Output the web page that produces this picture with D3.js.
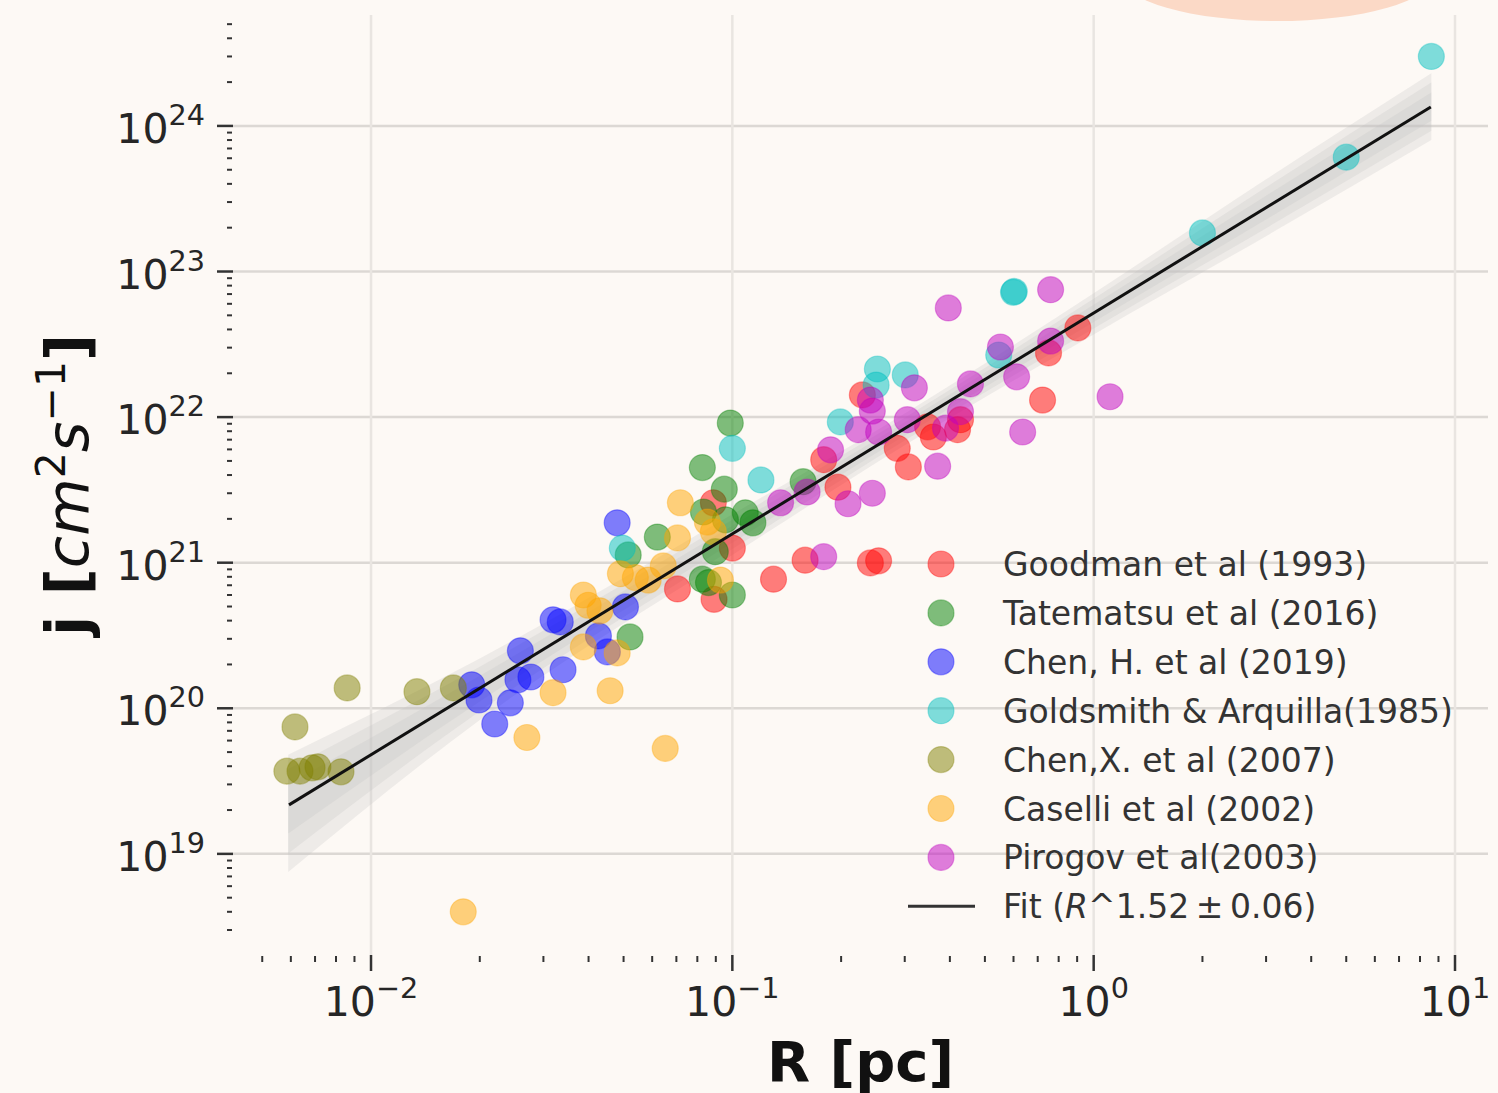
<!DOCTYPE html>
<html><head><meta charset="utf-8">
<script src="https://cdn.jsdelivr.net/npm/d3@7"></script>
<style>
html,body{margin:0;padding:0;background:#fdf9f5;}
svg{display:block;font-family:"DejaVu Sans",sans-serif;}
</style></head><body>
<svg id="chart" width="1498" height="1093"></svg>
<script>
// ---------------- data ----------------
const seriesNames = ["Goodman et al (1993)", "Tatematsu et al (2016)", "Chen, H. et al (2019)",
  "Goldsmith & Arquilla(1985)", "Chen,X. et al (2007)", "Caselli et al (2002)", "Pirogov et al(2003)"];
const seriesColors = ["#ff0000", "#008000", "#0000ff", "#00bfbf", "#808000", "#ffa500", "#bf00bf"];

const goodmanR = [0.904, 0.75, 0.722, 0.229, 0.347, 0.360, 0.420, 0.428, 0.286, 0.307, 0.179, 0.196, 0.0886, 0.100, 0.0705, 0.089, 0.130, 0.159, 0.241, 0.254];
const goodmanJ = [4.1e22, 2.76e22, 1.31e22, 1.42e22, 8.57e21, 7.3e21, 8.2e21, 9.6e21, 6.1e21, 4.55e21, 5.1e21, 3.3e21, 2.58e21, 1.26e21, 6.6e20, 5.6e20, 7.7e20, 1.04e21, 9.97e20, 1.03e21];

const tatematsuR = [0.0987, 0.0826, 0.095, 0.0832, 0.1086, 0.114, 0.157, 0.0897, 0.062, 0.0826, 0.0859, 0.100, 0.0515, 0.0521, 0.0957];
const tatematsuJ = [9.1e21, 4.5e21, 3.2e21, 2.23e21, 2.2e21, 1.88e21, 3.6e21, 1.19e21, 1.5e21, 7.7e20, 7.3e20, 6.0e20, 1.13e21, 3.09e20, 1.97e21];

const chenHR = [0.048, 0.0319, 0.0334, 0.0506, 0.0426, 0.0451, 0.0259, 0.0277, 0.0255, 0.034, 0.0243, 0.0199, 0.019, 0.022];
const chenHJ = [1.88e21, 4.05e20, 3.92e20, 4.97e20, 3.14e20, 2.44e20, 2.48e20, 1.64e20, 1.57e20, 1.84e20, 1.09e20, 1.14e20, 1.45e20, 7.8e19];

const goldsmithR = [8.6, 5.0, 2.0, 0.60, 0.603, 0.546, 0.252, 0.250, 0.301, 0.199, 0.100, 0.120, 0.0496];
const goldsmithJ = [3.0e24, 6.1e23, 1.84e23, 7.2e22, 7.3e22, 2.67e22, 2.14e22, 1.66e22, 1.95e22, 9.27e21, 6.1e21, 3.7e21, 1.26e21];

const chenXR = [0.00859, 0.0134, 0.0169, 0.00616, 0.00585, 0.00636, 0.00687, 0.00713, 0.00826];
const chenXJ = [1.38e20, 1.3e20, 1.38e20, 7.45e19, 3.7e19, 3.7e19, 3.9e19, 3.96e19, 3.66e19];

const caselliR = [0.0718, 0.0705, 0.0644, 0.049, 0.0539, 0.0585, 0.0387, 0.0399, 0.043, 0.0387, 0.048, 0.0319, 0.0459, 0.027, 0.0652, 0.0853, 0.0886, 0.0927, 0.018];
const caselliJ = [2.58e21, 1.48e21, 9.5e20, 8.4e20, 7.9e20, 7.6e20, 6.0e20, 5.1e20, 4.67e20, 2.64e20, 2.4e20, 1.28e20, 1.32e20, 6.3e19, 5.3e19, 1.9e21, 1.63e21, 7.6e20, 4.0e18];

const pirogovR = [0.396, 0.760, 0.552, 0.760, 0.612, 0.456, 1.11, 0.636, 0.319, 0.428, 0.370, 0.305, 0.241, 0.244, 0.223, 0.254, 0.187, 0.244, 0.161, 0.209, 0.136, 0.179, 0.389];
const pirogovJ = [5.62e22, 7.5e22, 3.03e22, 3.33e22, 1.89e22, 1.69e22, 1.38e22, 7.9e21, 1.59e22, 1.09e22, 4.6e21, 9.6e21, 1.31e22, 1.1e22, 8.2e21, 7.9e21, 5.96e21, 3.0e21, 3.06e21, 2.54e21, 2.58e21, 1.1e21, 8.4e21];

// fit line endpoints and its bootstrap spread band
const fitLabel = "Fit (R^1.52\u2009\u00b1\u20090.06)";
const fitR = [0.00593, 8.57];
const fitJ = [2.17e19, 1.35e24];
const bandR  = [0.0059, 0.02, 0.1, 0.3, 1, 3, 8.6];
const bandHi = [4.8e19, 2.2e20, 2.15e21, 1.06e22, 7.1e22, 4.3e23, 2.3e24];
const bandLo = [7.5e18, 8.3e19, 1.13e21, 6.4e21, 3.7e22, 1.75e23, 8.0e23];

// axes
const xDomain = [0.00415, 12.34];
const yDomain = [2.02e18, 5.78e24];
const xMajorTicks = [1e-2, 1e-1, 1e0, 1e1];
const xTickExp = ["\u22122", "\u22121", "0", "1"];
const yMajorTicks = [1e19, 1e20, 1e21, 1e22, 1e23, 1e24];
const yTickExp = ["19", "20", "21", "22", "23", "24"];

// ---------------- drawing ----------------
const R = [goodmanR, tatematsuR, chenHR, goldsmithR, chenXR, caselliR, pirogovR];
const J = [goodmanJ, tatematsuJ, chenHJ, goldsmithJ, chenXJ, caselliJ, pirogovJ];

const W = 1498, H = 1093;
const m = {left: 233, right: 1488, top: 15, bottom: 955};
const svg = d3.select("#chart");
svg.append("rect").attr("width", W).attr("height", H).attr("fill", "#fdf9f5");

// decorative peach blob at top
svg.append("ellipse").attr("cx", 1277).attr("cy", -24).attr("rx", 156).attr("ry", 45)
  .attr("fill", "#fbd9c6");

const x = d3.scaleLog().domain(xDomain).range([m.left, m.right]);
const y = d3.scaleLog().domain(yDomain).range([m.bottom, m.top]);

// grid
const grid = svg.append("g");
grid.selectAll(".hg").data(yMajorTicks).join("line")
  .attr("x1", m.left).attr("x2", m.right)
  .attr("y1", d => y(d)).attr("y2", d => y(d))
  .attr("stroke", "#dcd8d4").attr("stroke-width", 2.5);
grid.selectAll(".vg").data(xMajorTicks).join("line")
  .attr("x1", d => x(d)).attr("x2", d => x(d))
  .attr("y1", m.top).attr("y2", m.bottom)
  .attr("stroke", "#e9e5e1").attr("stroke-width", 2.5);

// minor ticks
function minors(domain) {
  const out = [];
  for (let e = Math.floor(Math.log10(domain[0])); e <= Math.ceil(Math.log10(domain[1])); e++) {
    for (let k = 2; k <= 9; k++) {
      const v = k * Math.pow(10, e);
      if (v >= domain[0] && v <= domain[1]) out.push(v);
    }
  }
  return out;
}
const tickCol = "#333";
const ax = svg.append("g");
ax.selectAll(".ymin").data(minors(yDomain)).join("line")
  .attr("x1", m.left - 6).attr("x2", m.left - 1)
  .attr("y1", d => y(d)).attr("y2", d => y(d))
  .attr("stroke", tickCol).attr("stroke-width", 2);
ax.selectAll(".xmin").data(minors(xDomain)).join("line")
  .attr("y1", m.bottom + 1).attr("y2", m.bottom + 7)
  .attr("x1", d => x(d)).attr("x2", d => x(d))
  .attr("stroke", tickCol).attr("stroke-width", 2);
ax.selectAll(".ymaj").data(yMajorTicks).join("line")
  .attr("x1", m.left - 16).attr("x2", m.left)
  .attr("y1", d => y(d)).attr("y2", d => y(d))
  .attr("stroke", tickCol).attr("stroke-width", 2.5);
ax.selectAll(".xmaj").data(xMajorTicks).join("line")
  .attr("y1", m.bottom).attr("y2", m.bottom + 16)
  .attr("x1", d => x(d)).attr("x2", d => x(d))
  .attr("stroke", tickCol).attr("stroke-width", 2.5);

const tickFont = 41;
yMajorTicks.forEach((v, i) => {
  const t = ax.append("text").attr("x", m.left - 28).attr("y", y(v) + 17)
    .attr("text-anchor", "end").attr("font-size", tickFont).attr("fill", "#262626");
  t.append("tspan").text("10");
  t.append("tspan").attr("dy", -18).attr("font-size", tickFont * 0.7).text(yTickExp[i]);
});
xMajorTicks.forEach((v, i) => {
  const t = ax.append("text").attr("x", x(v)).attr("y", 1016)
    .attr("text-anchor", "middle").attr("font-size", tickFont).attr("fill", "#262626");
  t.append("tspan").text("10");
  t.append("tspan").attr("dy", -18).attr("font-size", tickFont * 0.7).text(xTickExp[i]);
});

// axis labels
svg.append("text").attr("x", (m.left + m.right) / 2).attr("y", 1081)
  .attr("text-anchor", "middle").attr("font-size", 56).attr("font-weight", "bold")
  .attr("fill", "#111").text("R [pc]");
const yl = svg.append("text").attr("transform", `translate(88,${(m.top + m.bottom) / 2}) rotate(-90)`)
  .attr("text-anchor", "middle").attr("font-size", 59).attr("fill", "#111");
yl.append("tspan").attr("font-weight", "bold").text("j [");
yl.append("tspan").attr("font-style", "italic").text("cm");
yl.append("tspan").attr("dy", -23).attr("font-size", 41).text("2");
yl.append("tspan").attr("dy", 23).attr("font-style", "italic").text("s");
yl.append("tspan").attr("dy", -23).attr("font-size", 41).text("\u22121");
yl.append("tspan").attr("dy", 23).attr("font-weight", "bold").text("]");

// band
const plot = svg.append("g");
const fitAt = r => {
  const t = (Math.log10(r) - Math.log10(fitR[0])) / (Math.log10(fitR[1]) - Math.log10(fitR[0]));
  return Math.pow(10, Math.log10(fitJ[0]) + t * (Math.log10(fitJ[1]) - Math.log10(fitJ[0])));
};
[1.0, 0.72, 0.42].forEach(f => {
  const pts = bandR.map((r, i) => {
    const c = Math.log10(fitAt(r));
    return {r, hi: Math.pow(10, c + f * (Math.log10(bandHi[i]) - c)), lo: Math.pow(10, c + f * (Math.log10(bandLo[i]) - c))};
  });
  plot.append("path").datum(pts)
    .attr("d", d3.area().x(d => x(d.r)).y0(d => y(d.lo)).y1(d => y(d.hi)).curve(d3.curveMonotoneX))
    .attr("fill", "#c2c2c2").attr("fill-opacity", 0.24);
});

// points
R.forEach((rs, s) => {
  plot.append("g").selectAll("circle").data(rs.map((r, i) => [r, J[s][i]])).join("circle")
    .attr("cx", d => x(d[0])).attr("cy", d => y(d[1])).attr("r", 13)
    .attr("fill", seriesColors[s]).attr("fill-opacity", 0.5)
    .attr("stroke", seriesColors[s]).attr("stroke-opacity", 0.35).attr("stroke-width", 1.2);
});

// fit line
plot.append("path").datum(fitR.map((r, i) => [r, fitJ[i]]))
  .attr("d", d3.line().x(d => x(d[0])).y(d => y(d[1])))
  .attr("stroke", "#111").attr("stroke-width", 3).attr("fill", "none");

// legend
const lg = svg.append("g");
const rowY = i => 564 + i * 48.9;
const legFont = 33;
seriesNames.forEach((n, i) => {
  lg.append("circle").attr("cx", 941).attr("cy", rowY(i)).attr("r", 13)
    .attr("fill", seriesColors[i]).attr("fill-opacity", 0.5)
    .attr("stroke", seriesColors[i]).attr("stroke-opacity", 0.35).attr("stroke-width", 1.2);
  lg.append("text").attr("x", 1003).attr("y", rowY(i) + 12).attr("font-size", legFont)
    .attr("fill", "#333").text(n);
});
lg.append("line").attr("x1", 908).attr("x2", 975).attr("y1", rowY(7)).attr("y2", rowY(7))
  .attr("stroke", "#333").attr("stroke-width", 3);
const ft = lg.append("text").attr("x", 1003).attr("y", rowY(7) + 12).attr("font-size", legFont).attr("fill", "#333");
const fp = fitLabel.split("R");
ft.append("tspan").text(fp[0]);
ft.append("tspan").attr("font-style", "italic").text("R");
ft.append("tspan").text(fp[1]);
</script>
</body></html>
